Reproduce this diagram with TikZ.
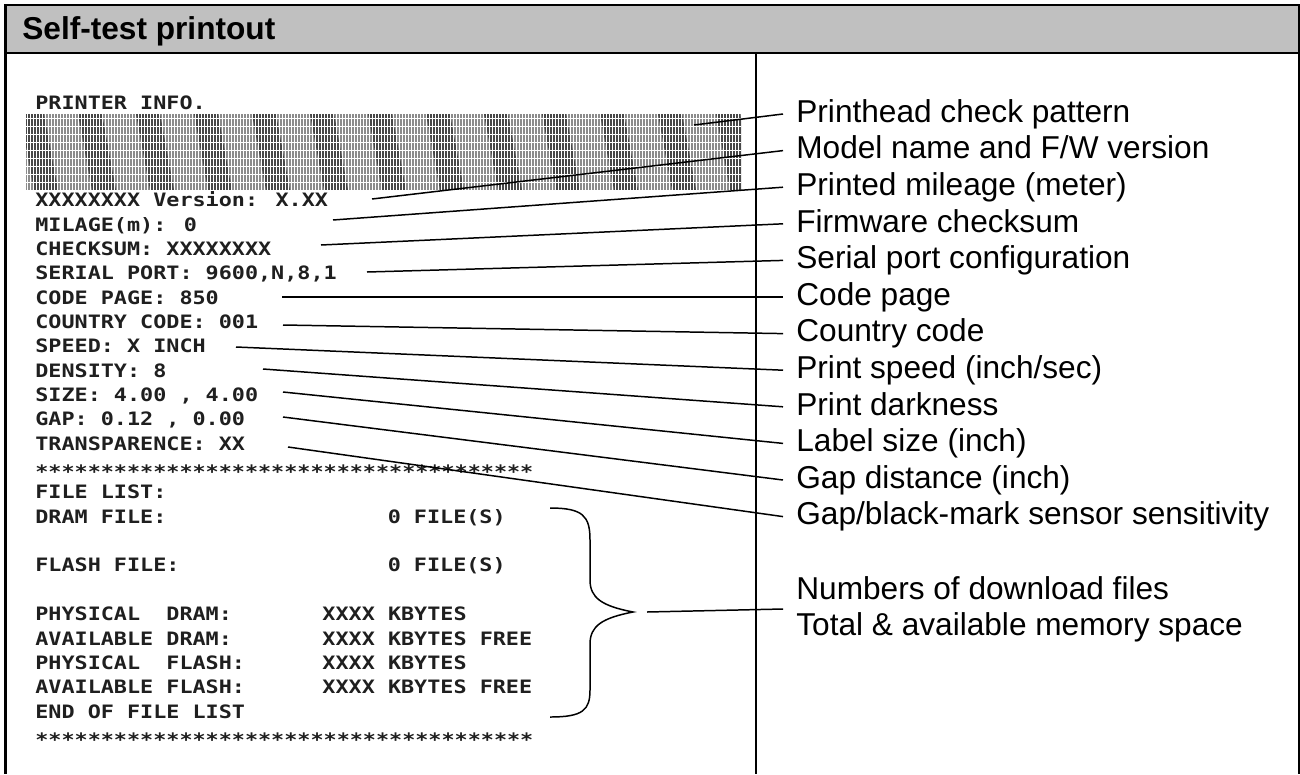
\documentclass[tikz,border=0pt]{standalone}
\usepackage{fontspec}
\setmainfont{Liberation Sans}
\newfontfamily\printfont[FakeStretch=1.18]{DejaVu Sans Mono}
\usetikzlibrary{calc}
\definecolor{headgray}{RGB}{192,192,192}
\newlength{\pcw}
\setlength{\pcw}{0.2611cm}
\newcommand{\pcol}[2]{\makebox[#1\pcw][l]{#2}}

\begin{document}
\begin{tikzpicture}[
    x=0.02cm, y=-0.02cm,
    frame/.style={line width=1.15pt, black},
    prow/.style={anchor=base west, inner sep=0pt, text=black!88,
                 font=\printfont\bfseries\fontsize{10.5pt}{12pt}\selectfont},
    lbl/.style={anchor=west, inner xsep=0.26cm, inner ysep=0pt,
                text height=13pt, text depth=3.6pt,
                font=\fontsize{18pt}{21pt}\selectfont},
    lead/.style={line width=0.85pt, black},
]
    \useasboundingbox (0,0) rectangle (1300,774);
    \draw[frame, fill=headgray] (5.5,5) rectangle (1298.5,53);
    \node[anchor=west, inner sep=0pt, font=\bfseries\fontsize{18pt}{21pt}\selectfont]
        (title) at (22,31.5) {Self-test printout};
    \draw[frame] (5.5,53) -- (5.5,774);
    \draw[frame] (755.5,53) -- (755.5,774);
    \draw[frame] (1298.5,53) -- (1298.5,774);

    \begin{scope}
        \clip (26,114) rectangle (741,190);
        \fill[black!45] (26,114) rectangle (741,190);
        \foreach \k in {0,...,12}
            \fill[black!72] (20+58*\k,114) -- ++(24,0) -- ++(14,76) -- ++(-24,0) -- cycle;
        \foreach \i in {0,...,238}
            \draw[white, line width=0.5pt] (27+3*\i,114) -- ++(0,76);
        \foreach \j in {0,...,9}
            \draw[white, line width=0.3pt] (26,118+8*\j) -- ++(715,0);
    \end{scope}

    \node[prow] (pinfo) at (35,109.3) {PRINTER INFO.};
    \node[prow] (ver) at (35,206.7) {XXXXXXXX Version: X.XX};
    \node[prow] (mil) at (35,231.05) {MILAGE(m): 0};
    \node[prow] (chk) at (35,255.4) {CHECKSUM: XXXXXXXX};
    \node[prow] (ser) at (35,279.75) {SERIAL PORT: 9600,N,8,1};
    \node[prow] (cpage) at (35,304.1) {CODE PAGE: 850};
    \node[prow] (ccode) at (35,328.45) {COUNTRY CODE: 001};
    \node[prow] (spd) at (35,352.8) {SPEED: X INCH};
    \node[prow] (den) at (35,377.15) {DENSITY: 8};
    \node[prow] (size) at (35,401.5) {SIZE: 4.00 , 4.00};
    \node[prow] (gap) at (35,425.85) {GAP: 0.12 , 0.00};
    \node[prow] (tra) at (35,450.2) {TRANSPARENCE: XX};
    \node[prow] (stars1) at (35,474.55) {\raisebox{-0.2em}{**************************************}};
    \node[prow] (flist) at (35,498.9) {FILE LIST:};
    \node[prow] (dram) at (35,523.25) {\pcol{27}{DRAM FILE:}0 FILE(S)};
    \node[prow] (flash) at (35,571.95) {\pcol{27}{FLASH FILE:}0 FILE(S)};
    \node[prow] (pdram) at (35,620.65) {\pcol{22}{PHYSICAL\ \ DRAM:}XXXX KBYTES};
    \node[prow] (adram) at (35,645.0) {\pcol{22}{AVAILABLE DRAM:}XXXX KBYTES FREE};
    \node[prow] (pflash) at (35,669.35) {\pcol{22}{PHYSICAL\ \ FLASH:}XXXX KBYTES};
    \node[prow] (aflash) at (35,693.7) {\pcol{22}{AVAILABLE FLASH:}XXXX KBYTES FREE};
    \node[prow] (eofl) at (35,718.05) {END OF FILE LIST};
    \node[prow] (stars2) at (35,742.4) {\raisebox{-0.2em}{**************************************}};

    \node[lbl] (lhead) at (783,114) {Printhead check pattern};
    \node[lbl] (lmodel) at (783,150.6) {Model name and F/W version};
    \node[lbl] (lmile) at (783,187.2) {Printed mileage (meter)};
    \node[lbl] (lsum) at (783,223.8) {Firmware checksum};
    \node[lbl] (lser) at (783,260.4) {Serial port configuration};
    \node[lbl] (lpage) at (783,297) {Code page};
    \node[lbl] (lcty) at (783,333.6) {Country code};
    \node[lbl] (lspd) at (783,370.2) {Print speed (inch/sec)};
    \node[lbl] (ldark) at (783,406.8) {Print darkness};
    \node[lbl] (lsize) at (783,443.4) {Label size (inch)};
    \node[lbl] (lgap) at (783,480) {Gap distance (inch)};
    \node[lbl] (lsens) at (783,516.6) {Gap/black-mark sensor sensitivity};
    \node[lbl] (lnum) at (783,591) {Numbers of download files};
    \node[lbl] (ltot) at (783,627) {Total \& available memory space};

    \coordinate (phead) at (694,125);
    \coordinate (pver) at (372,199);
    \coordinate (pmil) at (333,220);
    \coordinate (pchk) at (321,245);
    \coordinate (pser) at (367,272);
    \coordinate (pcode) at (282,297);
    \coordinate (pcty) at (283,325);
    \coordinate (pspd) at (236,347);
    \coordinate (pden) at (263,369);
    \coordinate (psize) at (283,392);
    \coordinate (pgap) at (283,417);
    \coordinate (ptra) at (288,447);
    \coordinate (pbrace) at (647,612);

    \draw[lead] (phead) -- (lhead.west);
    \draw[lead] (pver) -- (lmodel.west);
    \draw[lead] (pmil) -- (lmile.west);
    \draw[lead] (pchk) -- (lsum.west);
    \draw[lead] (pser) -- (lser.west);
    \draw[lead] (pcode) -- (lpage.west);
    \draw[lead] (pcty) -- (lcty.west);
    \draw[lead] (pspd) -- (lspd.west);
    \draw[lead] (pden) -- (ldark.west);
    \draw[lead] (psize) -- (lsize.west);
    \draw[lead] (pgap) -- (lgap.west);
    \draw[lead] (ptra) -- (lsens.west);

    \draw[lead] (550,508) .. controls (583,508) and (590,516) .. (590,540)
        -- (590,580) .. controls (590,598) and (602,606) .. (633,612)
        .. controls (602,618) and (590,626) .. (590,644)
        -- (590,690) .. controls (590,710) and (583,717) .. (550,717);
    \draw[lead] (pbrace) -- ($(lnum.west)!0.5!(ltot.west)$);
\end{tikzpicture}
\end{document}
